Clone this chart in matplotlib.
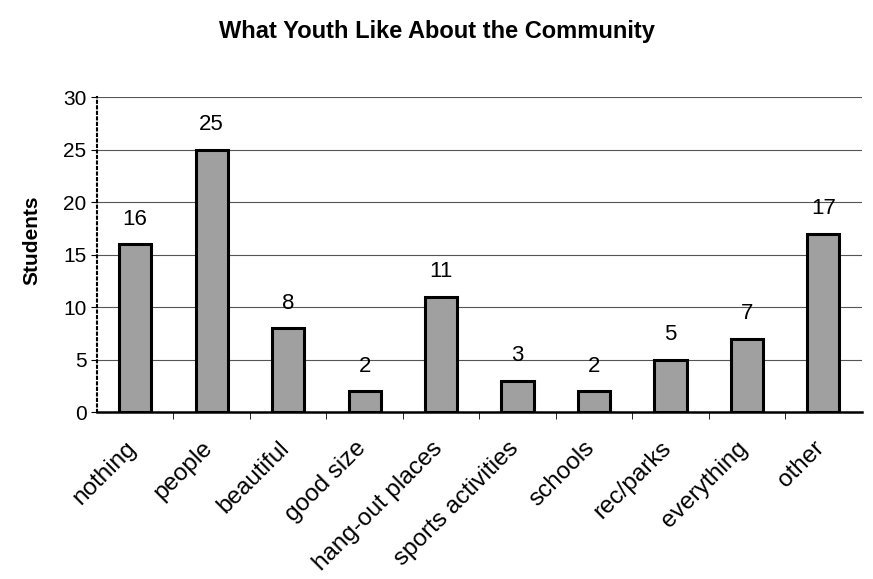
import matplotlib.pyplot as plt
import matplotlib.transforms as mtransforms
import numpy as np

plt.rcParams['font.family'] = ['Liberation Sans', 'DejaVu Sans']

categories = ['nothing', 'people', 'beautiful', 'good size', 'hang-out places',
              'sports activities', 'schools', 'rec/parks', 'everything', 'other']
students = [16, 25, 8, 2, 11, 3, 2, 5, 7, 17]

fig = plt.figure(figsize=(8.73, 5.79), dpi=100)
ax = fig.add_axes([0.111, 0.288, 0.876, 0.544])

x = np.arange(len(categories))
bars = ax.bar(x, students, width=0.42, color='#a0a0a0', edgecolor='black',
              linewidth=2.2, zorder=3)

for xi, v in zip(x, students):
    ax.text(xi, v + 1.4, str(v), ha='center', va='bottom', fontsize=16)

ax.set_xlim(-0.5, len(categories) - 0.5)
ax.set_ylim(0, 30)
ax.set_yticks(range(0, 31, 5))
ax.yaxis.grid(True, color='#555555', linewidth=0.8, zorder=0)
ax.set_axisbelow(True)

ax.set_xticks(x)
ax.set_xticklabels(categories, rotation=45, ha='right', rotation_mode='anchor',
                   fontsize=17.5)
ax.tick_params(axis='x', length=0, pad=18)
# nudge the rotated labels so their ends sit under the bars
shift = mtransforms.ScaledTranslation(-10 / 100, 0, fig.dpi_scale_trans)
for lbl in ax.get_xticklabels():
    lbl.set_transform(lbl.get_transform() + shift)
ax.set_xticks(x[:-1] + 0.5, minor=True)
ax.tick_params(axis='x', which='minor', length=5, color='black')
ax.tick_params(axis='y', labelsize=15, length=4)

for s in ['top', 'right']:
    ax.spines[s].set_visible(False)
ax.spines['left'].set_linestyle(':')
ax.spines['left'].set_linewidth(1.5)
ax.spines['bottom'].set_linewidth(1.8)

ax.set_ylabel('Students', fontsize=15, fontweight='bold')
ax.yaxis.set_label_coords(-0.072, 0.546)
fig.suptitle('What Youth Like About the Community', fontsize=17,
             fontweight='bold', y=0.965)

fig.savefig('out.png', dpi=100)
